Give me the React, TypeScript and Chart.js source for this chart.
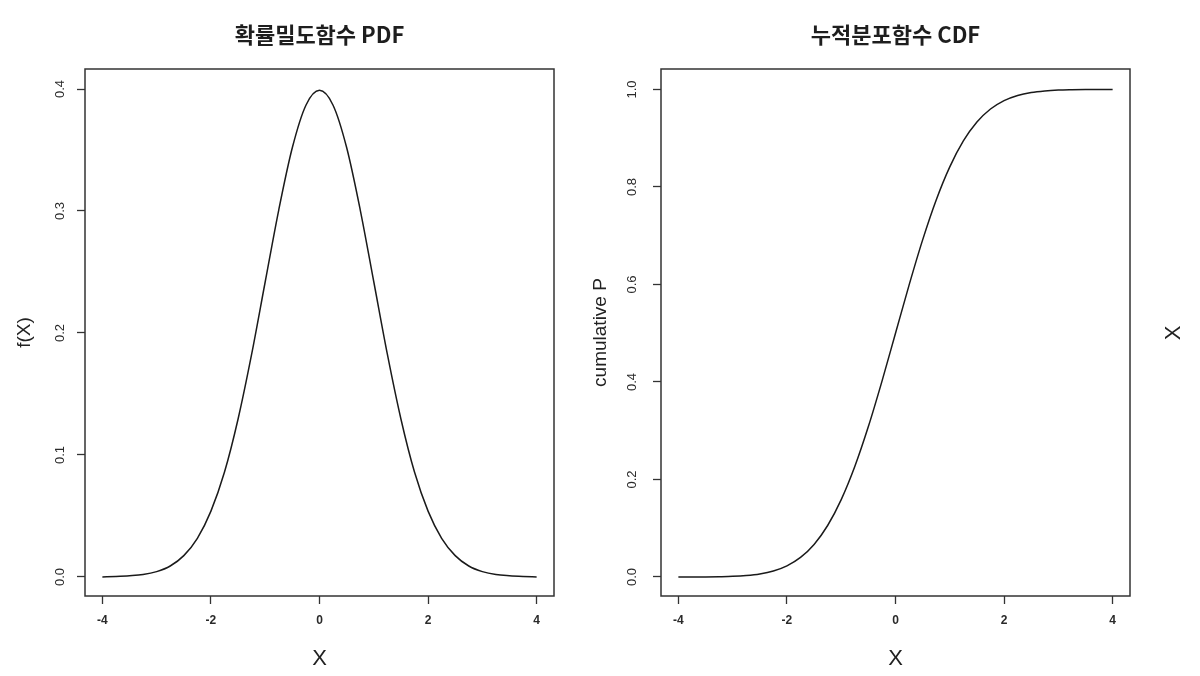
import React, { useEffect, useRef } from "react";
import { Chart, registerables } from "chart.js";

Chart.register(...registerables);

// ---- data ----
const xValues = [
  -4, -3.75, -3.5, -3.25, -3, -2.75, -2.5, -2.25, -2, -1.75, -1.5, -1.25, -1, -0.75, -0.5, -0.25,
  0, 0.25, 0.5, 0.75, 1, 1.25, 1.5, 1.75, 2, 2.25, 2.5, 2.75, 3, 3.25, 3.5, 3.75, 4,
];
const pdfValues = [
  0.0, 0.0004, 0.001, 0.002, 0.0044, 0.009, 0.0175, 0.0317, 0.054, 0.086, 0.1295, 0.1826, 0.242,
  0.301, 0.352, 0.3867, 0.3989, 0.3867, 0.352, 0.301, 0.242, 0.1826, 0.1295, 0.086, 0.054, 0.0317,
  0.0175, 0.009, 0.0044, 0.002, 0.001, 0.0004, 0.0,
];
const cdfValues = [
  0.0, 0.0001, 0.0002, 0.0006, 0.0013, 0.003, 0.0062, 0.0122, 0.0228, 0.0401, 0.0668, 0.1056,
  0.1587, 0.2266, 0.3085, 0.4013, 0.5, 0.5987, 0.6915, 0.7734, 0.8413, 0.8944, 0.9332, 0.9599,
  0.9772, 0.9878, 0.9938, 0.997, 0.9987, 0.9994, 0.9998, 0.9999, 1.0,
];
const xTicks = [-4, -2, 0, 2, 4];
const pdfTicks = [0, 0.1, 0.2, 0.3, 0.4];
const cdfTicks = [0, 0.2, 0.4, 0.6, 0.8, 1.0];

const pdfTitle = "확률밀도함수 PDF";
const cdfTitle = "누적분포함수 CDF";
const xLabel = "X";
const pdfYLabel = "f(X)";
const cdfYLabel = "cumulative P";
const sideLabel = "X";

const SANS = '"Liberation Sans", Arial, sans-serif';
const KR = '"Noto Sans CJK KR", "Noto Sans", sans-serif';

const boxPlugin = {
  id: "rbox",
  afterDraw(chart: any) {
    const { left, top, right, bottom } = chart.chartArea;
    const ctx = chart.ctx;
    ctx.save();
    ctx.strokeStyle = "#333";
    ctx.lineWidth = 1.5;
    ctx.strokeRect(left, top, right - left, bottom - top);
    ctx.restore();
  },
};

function sideTextPlugin(text: string, x: number, y: number) {
  return {
    id: "sideText",
    afterDraw(chart: any) {
      const ctx = chart.ctx;
      ctx.save();
      ctx.translate(x, y);
      ctx.rotate(-Math.PI / 2);
      ctx.font = `22px ${SANS}`;
      ctx.fillStyle = "#222";
      ctx.textAlign = "center";
      ctx.textBaseline = "middle";
      ctx.fillText(text, 0, 0);
      ctx.restore();
    },
  };
}

interface PanelOpts {
  values: number[];
  yTicks: number[];
  yMin: number;
  yMax: number;
  title: string;
  yLabel: string;
  yAxisWidth: number;
  padRight: number;
  yTickPad: number;
  yTitlePad: number;
  extraPlugins?: any[];
}

function makeConfig(o: PanelOpts): any {
  const grid = {
    display: true,
    drawOnChartArea: false,
    drawTicks: true,
    tickLength: 8,
    tickWidth: 1.3,
    tickColor: "#333",
  };
  return {
    type: "line",
    data: {
      datasets: [
        {
          data: xValues.map((x, i) => ({ x, y: o.values[i] })),
          borderColor: "#1a1a1a",
          borderWidth: 1.5,
          pointRadius: 0,
          fill: false,
          cubicInterpolationMode: "monotone",
        },
      ],
    },
    options: {
      responsive: false,
      animation: false,
      devicePixelRatio: 1,
      layout: { padding: { top: 0, left: 0, bottom: 0, right: o.padRight } },
      plugins: {
        legend: { display: false },
        tooltip: { enabled: false },
        title: {
          display: true,
          text: o.title,
          fullSize: false,
          color: "#1e1e1e",
          font: { family: KR, size: 22, weight: "bold" },
          padding: { top: 21, bottom: 21.6 },
        },
      },
      scales: {
        x: {
          type: "linear",
          min: -4.32,
          max: 4.32,
          afterBuildTicks: (s: any) => {
            s.ticks = xTicks.map((v) => ({ value: v }));
          },
          afterFit: (s: any) => {
            s.height = 80;
          },
          ticks: {
            autoSkip: false,
            maxRotation: 0,
            padding: 9,
            color: "#2a2a2a",
            font: { family: SANS, size: 12, weight: "bold" },
            callback: (v: any) => String(v),
          },
          grid,
          border: { display: false },
          title: {
            display: true,
            text: xLabel,
            color: "#222",
            font: { family: SANS, size: 22 },
            padding: { top: 0, bottom: 4 },
          },
        },
        y: {
          type: "linear",
          min: o.yMin,
          max: o.yMax,
          afterBuildTicks: (s: any) => {
            s.ticks = o.yTicks.map((v) => ({ value: v }));
          },
          afterFit: (s: any) => {
            s.width = o.yAxisWidth;
          },
          ticks: {
            autoSkip: false,
            minRotation: 90,
            maxRotation: 90,
            crossAlign: "center",
            padding: o.yTickPad,
            color: "#2a2a2a",
            font: { family: SANS, size: 13 },
            callback: (v: any) => Number(v).toFixed(1),
          },
          grid,
          border: { display: false },
          title: {
            display: true,
            text: o.yLabel,
            color: "#222",
            font: { family: SANS, size: 19 },
            padding: { top: o.yTitlePad, bottom: 0 },
          },
        },
      },
    },
    plugins: [boxPlugin, ...(o.extraPlugins || [])],
  };
}

export default function App() {
  const leftRef = useRef<HTMLCanvasElement>(null);
  const rightRef = useRef<HTMLCanvasElement>(null);

  useEffect(() => {
    const left = new Chart(
      leftRef.current as HTMLCanvasElement,
      makeConfig({
        values: pdfValues,
        yTicks: pdfTicks,
        yMin: -0.0156,
        yMax: 0.4164,
        title: pdfTitle,
        yLabel: pdfYLabel,
        yAxisWidth: 85,
        padRight: 26,
        yTickPad: 8,
        yTitlePad: 13,
      })
    );
    const right = new Chart(
      rightRef.current as HTMLCanvasElement,
      makeConfig({
        values: cdfValues,
        yTicks: cdfTicks,
        yMin: -0.039,
        yMax: 1.042,
        title: cdfTitle,
        yLabel: cdfYLabel,
        yAxisWidth: 81,
        padRight: 70,
        yTickPad: 12,
        yTitlePad: 9,
        extraPlugins: [sideTextPlugin(sideLabel, 594, 333)],
      })
    );
    return () => {
      left.destroy();
      right.destroy();
    };
  }, []);

  return (
    <div
      style={{
        position: "absolute",
        left: 0,
        top: 0,
        width: 1200,
        height: 676,
        background: "#fff",
        overflow: "hidden",
      }}
    >
      <canvas
        ref={leftRef}
        width={580}
        height={676}
        style={{ position: "absolute", left: 0, top: 0, width: 580, height: 676 }}
      />
      <canvas
        ref={rightRef}
        width={620}
        height={676}
        style={{ position: "absolute", left: 580, top: 0, width: 620, height: 676 }}
      />
    </div>
  );
}
